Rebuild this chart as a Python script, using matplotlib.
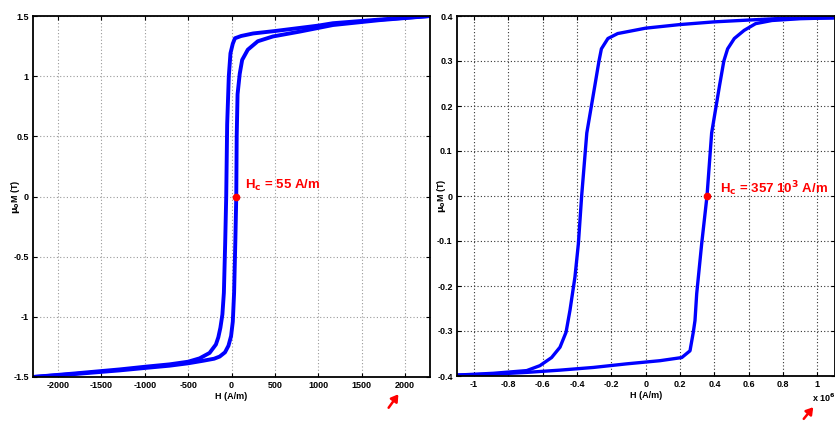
import matplotlib
matplotlib.use("Agg")
import matplotlib.pyplot as plt
from matplotlib.ticker import FuncFormatter

plt.rcParams['font.family'] = ['Liberation Sans', 'DejaVu Sans']
plt.rcParams['font.weight'] = 'bold'

# ---- Left loop (soft material), H in A/m, mu0*M in T ----
H_left_desc = [2290, 1700, 1170, 1000, 500, 250, 112, 40, 15, -12, -31, -50, -61, -73, -88, -105, -128, -152, -180, -253, -368, -500, -715, -1000, -1290, -1800, -2290]
M_left_desc = [1.5, 1.47, 1.44, 1.42, 1.375, 1.355, 1.334, 1.315, 1.27, 1.19, 1.0, 0.6, 0.0, -0.39, -0.8, -0.98, -1.09, -1.17, -1.23, -1.30, -1.345, -1.373, -1.395, -1.415, -1.437, -1.47, -1.5]
H_left_asc = [-2290, -1800, -1290, -1000, -715, -500, -328, -200, -136, -75, -35, -5, 15, 30, 45, 55, 60, 70, 95, 123, 188, 303, 478, 784, 1170, 1700, 2290]
M_left_asc = [-1.5, -1.475, -1.445, -1.425, -1.406, -1.386, -1.365, -1.348, -1.33, -1.295, -1.24, -1.16, -1.04, -0.8, -0.35, 0.0, 0.5, 0.85, 1.02, 1.135, 1.22, 1.29, 1.33, 1.37, 1.425, 1.465, 1.5]
Hc_left = 55

# ---- Right loop (hard material), H in 10^6 A/m, mu0*M in T ----
H_right_desc = [1.1, 0.755, 0.6, 0.4, 0.2, 0.0, -0.163, -0.22, -0.258, -0.272, -0.296, -0.343, -0.373, -0.392, -0.412, -0.441, -0.464, -0.499, -0.548, -0.616, -0.693, -0.888, -1.1]
M_right_desc = [0.396, 0.394, 0.391, 0.387, 0.381, 0.373, 0.361, 0.35, 0.327, 0.3, 0.2455, 0.14, 0.0, -0.106, -0.18, -0.254, -0.303, -0.336, -0.359, -0.377, -0.388, -0.394, -0.398]
H_right_asc = [-1.1, -0.888, -0.693, -0.5, -0.305, -0.111, 0.083, 0.21, 0.258, 0.277, 0.287, 0.297, 0.326, 0.357, 0.384, 0.43, 0.455, 0.477, 0.516, 0.573, 0.64, 0.735, 0.9, 1.1]
M_right_asc = [-0.398, -0.396, -0.392, -0.387, -0.381, -0.373, -0.366, -0.359, -0.344, -0.303, -0.277, -0.217, -0.106, 0.0, 0.14, 0.2455, 0.3, 0.327, 0.35, 0.368, 0.383, 0.39, 0.394, 0.396]
Hc_right = 0.357

left_xticks = [-2000, -1500, -1000, -500, 0, 500, 1000, 1500, 2000]
left_yticks = [-1.5, -1, -0.5, 0, 0.5, 1, 1.5]
right_xticks = [-1, -0.8, -0.6, -0.4, -0.2, 0, 0.2, 0.4, 0.6, 0.8, 1]
right_yticks = [-0.4, -0.3, -0.2, -0.1, 0, 0.1, 0.2, 0.3, 0.4]

W, Hpx = 835, 421
fig = plt.figure(figsize=(W / 100, Hpx / 100), dpi=100)

def px_axes(x0, x1, ytop, ybot):
    return fig.add_axes([x0 / W, (Hpx - ybot) / Hpx, (x1 - x0) / W, (ybot - ytop) / Hpx])

ax1 = px_axes(33, 430, 16, 377)
ax2 = px_axes(456.8, 834.6, 16, 376)

fmt = FuncFormatter(lambda v, p: ('%g' % round(v, 6)) if abs(v) > 1e-9 else '0')

def style(ax, gridcolor):
    ax.tick_params(direction='in', top=True, right=True, length=3, width=0.8, labelsize=6.5, pad=3)
    for s in ax.spines.values():
        s.set_linewidth(1.3)
    ax.grid(True, linestyle=(0, (1, 2)), color=gridcolor, linewidth=0.8)
    ax.set_axisbelow(True)
    ax.xaxis.set_major_formatter(fmt)
    ax.yaxis.set_major_formatter(fmt)
    for lab in ax.get_xticklabels() + ax.get_yticklabels():
        lab.set_fontweight('bold')

blue = '#0000ff'
red = '#ff0000'

# Left
ax1.plot(H_left_desc, M_left_desc, color=blue, lw=2.8, solid_joinstyle='round')
ax1.plot(H_left_asc, M_left_asc, color=blue, lw=2.8, solid_joinstyle='round')
ax1.plot([Hc_left], [0], 'o', color=red, ms=4.5)
ax1.text(150, 0.06, r'H$_\mathbf{c}$ = 55 A/m', color=red, fontsize=9.5, fontweight='bold', va='baseline')
ax1.set_xlim(-2290, 2290)
ax1.set_ylim(-1.5, 1.5)
ax1.set_xticks(left_xticks)
ax1.set_yticks(left_yticks)
ax1.set_xlabel('H (A/m)', fontsize=6.5, fontweight='bold', labelpad=1)
ax1.set_ylabel(r'$\mathbf{\mu}_\mathbf{0}$M (T)', fontsize=6.5, fontweight='bold')
ax1.yaxis.set_label_coords(-0.028, 0.5)
style(ax1, '#9a9a9a')

# Right
ax2.plot(H_right_desc, M_right_desc, color=blue, lw=2.4, solid_joinstyle='round')
ax2.plot(H_right_asc, M_right_asc, color=blue, lw=2.4, solid_joinstyle='round')
ax2.plot([Hc_right], [0], 'o', color=red, ms=4.5)
ax2.text(0.433, 0.006, r'H$_\mathbf{c}$ = 357 10$^\mathbf{3}$ A/m', color=red, fontsize=9.5, fontweight='bold', va='baseline')
ax2.set_xlim(-1.1, 1.1)
ax2.set_ylim(-0.4, 0.4)
ax2.set_xticks(right_xticks)
ax2.set_yticks(right_yticks)
ax2.set_xlabel('H (A/m)', fontsize=6.5, fontweight='bold', labelpad=1)
ax2.set_ylabel(r'$\mathbf{\mu}_\mathbf{0}$M (T)', fontsize=6.5, fontweight='bold')
ax2.yaxis.set_label_coords(-0.023, 0.5)
style(ax2, '#333333')

fig.text(812 / W, (Hpx - 402) / Hpx, r'x 10$^\mathbf{6}$', fontsize=6.5, fontweight='bold', va='baseline')

# red arrows
for (x0, y0, x1, y1) in [(387, 410, 400, 392), (802, 421, 815, 405)]:
    fig.patches.append(matplotlib.patches.FancyArrowPatch(
        (x0 / W, (Hpx - y0) / Hpx), (x1 / W, (Hpx - y1) / Hpx),
        transform=fig.transFigure, arrowstyle='-|>,head_length=4,head_width=2.5',
        color=red, lw=1.8, mutation_scale=1))

fig.savefig('out.png', dpi=100)
